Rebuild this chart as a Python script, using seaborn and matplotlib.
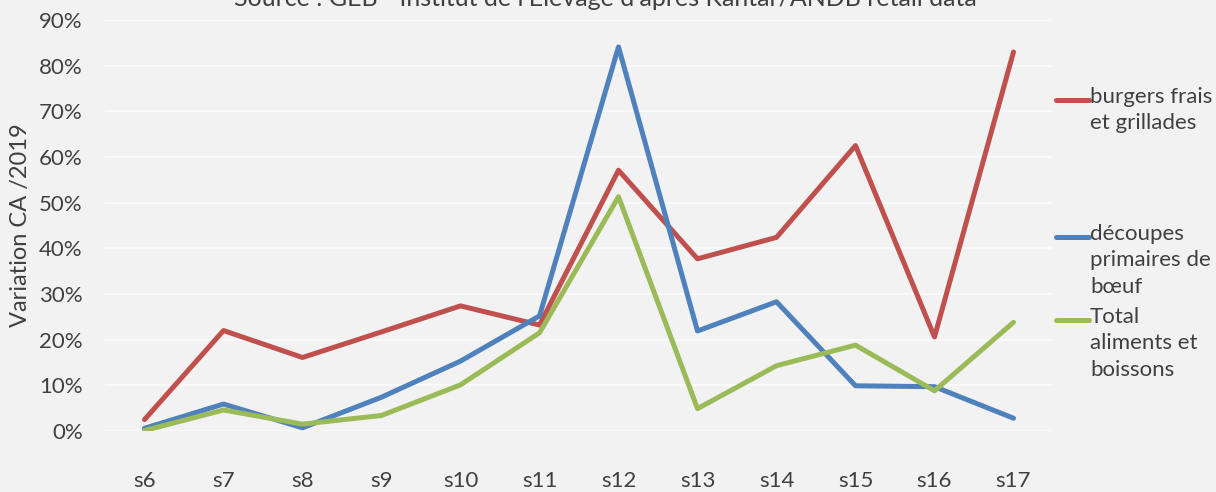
import matplotlib
matplotlib.use("Agg")
import matplotlib.pyplot as plt
import seaborn as sns
import pandas as pd
from matplotlib.lines import Line2D
from matplotlib.ticker import PercentFormatter

weeks = ["s6", "s7", "s8", "s9", "s10", "s11", "s12", "s13", "s14", "s15", "s16", "s17"]
burgers = [2.5, 22.0, 16.1, 21.7, 27.4, 23.2, 57.1, 37.7, 42.4, 62.5, 20.6, 83.0]
decoupes = [0.6, 5.9, 0.7, 7.4, 15.3, 25.2, 84.1, 21.9, 28.3, 9.9, 9.7, 2.8]
total = [0.1, 4.6, 1.5, 3.4, 10.1, 21.5, 51.3, 4.9, 14.3, 18.8, 8.8, 23.8]

names = ["burgers frais\net grillades", "découpes\nprimaires de\nbœuf", "Total\naliments et\nboissons"]
colors = ["#C0504D", "#4F81BD", "#9BBB59"]

rows = []
for name, vals in zip(names, [burgers, decoupes, total]):
    for w, v in zip(weeks, vals):
        rows.append({"semaine": w, "valeur": v, "serie": name})
df = pd.DataFrame(rows)

sns.set_style("white")
plt.rcParams["font.family"] = ["Lato", "DejaVu Sans"]
bg = "#F2F2F2"
txt = "#404040"

fig = plt.figure(figsize=(12.16, 4.92), dpi=100, facecolor=bg)
ax = fig.add_axes([105 / 1216, 1 - 431 / 492, (1053 - 105) / 1216, (431 - 20) / 492])
ax.set_facecolor(bg)

sns.lineplot(data=df, x="semaine", y="valeur", hue="serie", hue_order=names,
             palette=colors, linewidth=3.6, sort=False, legend=False, ax=ax)

ax.set_xlim(-0.5, len(weeks) - 0.5)
ax.set_ylim(0, 90)
ax.set_yticks(range(0, 91, 10))
ax.yaxis.set_major_formatter(PercentFormatter(decimals=0))
ax.grid(axis="y", color="#FBFBFB", linewidth=1.2)
ax.set_axisbelow(True)
for s in ax.spines.values():
    s.set_visible(False)
ax.tick_params(axis="x", length=0, pad=29, labelsize=16, colors=txt)
ax.tick_params(axis="y", length=0, pad=16, labelsize=16, colors=txt)
ax.set_xlabel("")
ax.set_ylabel("Variation CA /2019", fontsize=17, color=txt)
ax.yaxis.set_label_coords(-0.078, 0.5)

fig.text(605 / 1216, 1 - 6 / 492, "Source : GEB - Institut de l'Elevage d'après Kantar/ANDB retail data",
         ha="center", va="baseline", fontsize=18, color=txt)

# legend on the right
leg_y = [100, 237, 320]
for name, col, y in zip(names, colors, leg_y):
    yf = 1 - y / 492
    fig.add_artist(Line2D([1056 / 1216, 1089 / 1216], [yf, yf], color=col, linewidth=3.6,
                          solid_capstyle="round", transform=fig.transFigure))
    fig.text(1090 / 1216, yf + 13 / 492, name, ha="left", va="top", fontsize=16,
             color=txt, linespacing=1.4)

fig.savefig("out.png", dpi=100, facecolor=bg)
